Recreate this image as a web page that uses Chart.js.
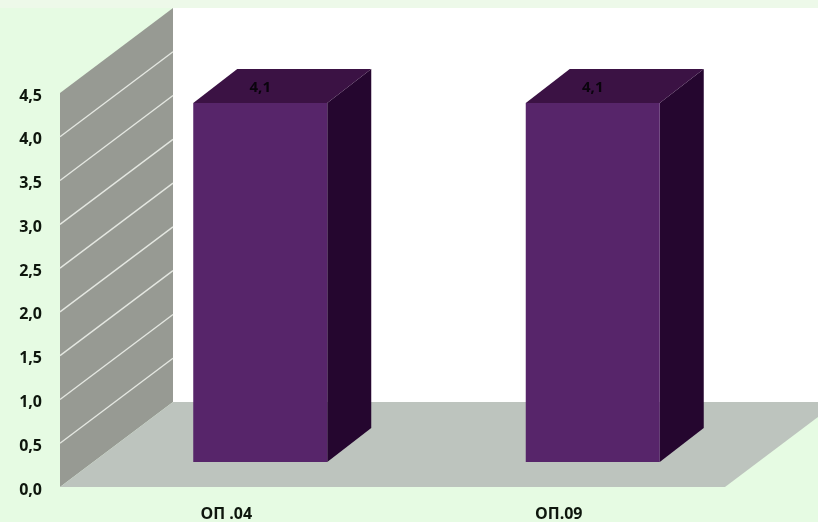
<!DOCTYPE html>
<html>
<head>
<meta charset="utf-8">
<style>
html,body{margin:0;padding:0;background:#e6fbe3;overflow:hidden}
canvas{display:block;filter:blur(0.4px)}
</style>
<script src="https://cdn.jsdelivr.net/npm/chart.js@4"></script>
</head>
<body>
<canvas id="c" width="818" height="522"></canvas>
<script>
const categories = ['ОП .04', 'ОП.09'];
const values = [4.1, 4.1];
const yMin = 0, yMax = 4.5, yStep = 0.5;

const WALL = {dx: 113, dy: -85};
const BAR_OFFSET = {dx: 34, dy: -25};
const BAR_DEPTH = {dx: 44, dy: -34};
const COLORS = {bar: '#57256a', top: '#3b1244', side: '#25062f', wall: '#979a93',
                floor: '#bdc4be', back: '#ffffff', grid: '#e4e7e1', text: '#0e160d', strip: '#edf9e9'};

function poly(ctx, pts, fill) {
  ctx.beginPath();
  pts.forEach((p, i) => i ? ctx.lineTo(p[0], p[1]) : ctx.moveTo(p[0], p[1]));
  ctx.closePath();
  ctx.fillStyle = fill;
  ctx.fill();
}

const room = {
  id: 'room',
  beforeDatasetsDraw(chart) {
    const {ctx, chartArea: a, scales: {y}} = chart;
    const {dx, dy} = WALL;
    ctx.save();
    poly(ctx, [[0, 0], [chart.width, 0], [chart.width, a.top + dy], [0, a.top + dy]], COLORS.strip);
    poly(ctx, [[a.left + dx, a.top + dy], [chart.width, a.top + dy], [chart.width, a.bottom + dy], [a.left + dx, a.bottom + dy]], COLORS.back);
    poly(ctx, [[a.left, a.top], [a.left + dx, a.top + dy], [a.left + dx, a.bottom + dy], [a.left, a.bottom]], COLORS.wall);
    poly(ctx, [[a.left, a.bottom], [a.left + dx, a.bottom + dy], [a.right + dx, a.bottom + dy], [a.right, a.bottom]], COLORS.floor);
    ctx.strokeStyle = COLORS.grid;
    ctx.lineWidth = 1.4;
    y.ticks.forEach(t => {
      if (t.value === yMin || t.value === yMax) return;
      const py = y.getPixelForValue(t.value);
      ctx.beginPath();
      ctx.moveTo(a.left, py);
      ctx.lineTo(a.left + dx, py + dy);
      ctx.stroke();
    });
    ctx.restore();
  }
};

const bars3d = {
  id: 'bars3d',
  beforeDatasetDraw(chart, args) {
    const {ctx} = chart;
    const {dx, dy} = BAR_DEPTH;
    ctx.save();
    ctx.translate(BAR_OFFSET.dx, BAR_OFFSET.dy);
    args.meta.data.forEach(bar => {
      const p = bar.getProps(['x', 'y', 'base', 'width'], true);
      const l = p.x - p.width / 2, r = p.x + p.width / 2;
      poly(ctx, [[r, p.y], [r + dx, p.y + dy], [r + dx, p.base + dy], [r, p.base]], COLORS.side);
      poly(ctx, [[l, p.y], [l + dx, p.y + dy], [r + dx, p.y + dy], [r, p.y]], COLORS.top);
    });
  },
  afterDatasetDraw(chart, args) {
    const {ctx} = chart;
    ctx.restore();
    ctx.save();
    ctx.font = 'bold 15px "Open Sans", sans-serif';
    ctx.fillStyle = '#0a040d';
    ctx.textAlign = 'center';
    ctx.textBaseline = 'middle';
    args.meta.data.forEach((bar, i) => {
      const p = bar.getProps(['x', 'y'], true);
      ctx.fillText(String(values[i]).replace('.', ','), p.x + BAR_OFFSET.dx, p.y + BAR_OFFSET.dy - 15);
    });
    ctx.restore();
  }
};

new Chart(document.getElementById('c'), {
  type: 'bar',
  data: {
    labels: categories,
    datasets: [{
      data: values,
      backgroundColor: COLORS.bar,
      borderWidth: 0,
      barPercentage: 0.403,
      categoryPercentage: 1,
      clip: false
    }]
  },
  options: {
    responsive: false,
    animation: false,
    layout: {padding: {left: 0, right: 93, top: 93, bottom: 0}},
    plugins: {legend: {display: false}, title: {display: false}, tooltip: {enabled: false}},
    scales: {
      x: {
        grid: {display: false, drawTicks: false},
        border: {display: false},
        afterFit(s) { s.height = 35; },
        ticks: {color: COLORS.text, font: {family: '"Open Sans", sans-serif', size: 16, weight: 'bold'}, padding: 18, maxRotation: 0}
      },
      y: {
        min: yMin, max: yMax,
        grid: {display: false, drawTicks: false},
        border: {display: false},
        afterFit(s) { s.width = 60; },
        ticks: {
          stepSize: yStep,
          color: COLORS.text,
          font: {family: '"Open Sans", sans-serif', size: 16, weight: 'bold'},
          padding: 18,
          labelOffset: 3,
          callback: v => v.toFixed(1).replace('.', ',')
        }
      }
    }
  },
  plugins: [room, bars3d]
});
</script>
</body>
</html>
